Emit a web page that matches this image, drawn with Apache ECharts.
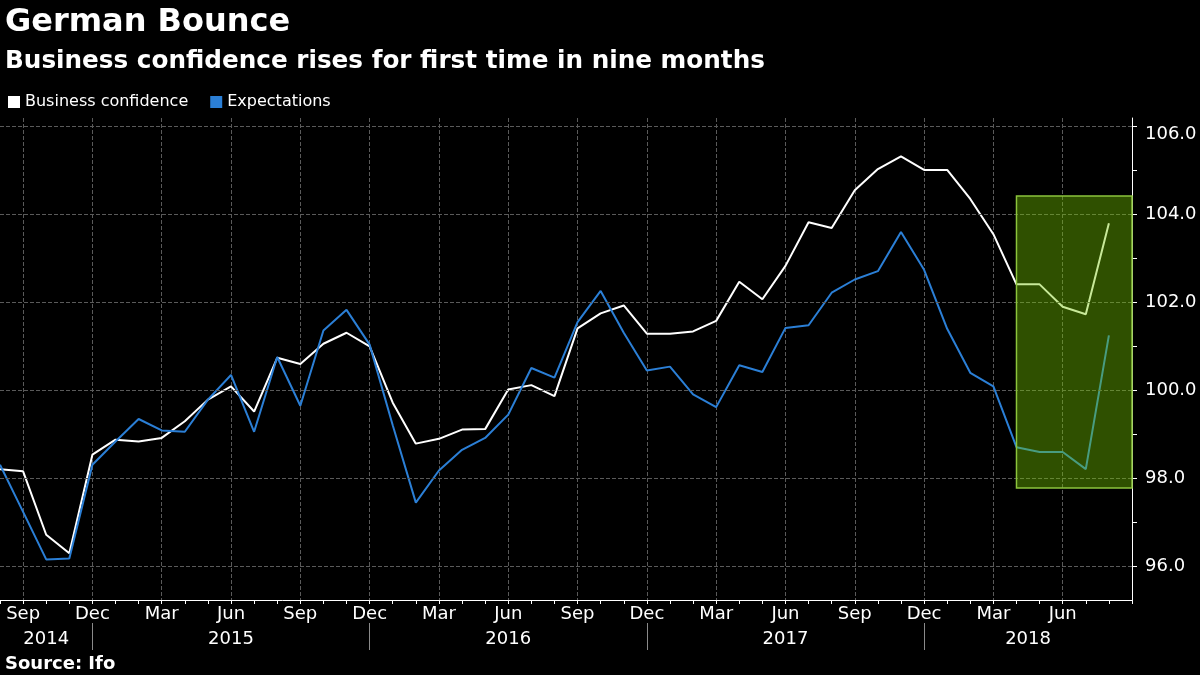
<!DOCTYPE html>
<html>
<head>
<meta charset="utf-8">
<style>
  html, body { margin: 0; padding: 0; background: #000; }
  #chart { width: 1200px; height: 675px; }
</style>
<script src="https://cdn.jsdelivr.net/npm/echarts@6/dist/echarts.min.js"></script>
</head>
<body>
<div id="chart"></div>
<script>
// ---- data ----
const months = [
  'Aug 2014','Sep 2014','Oct 2014','Nov 2014','Dec 2014',
  'Jan 2015','Feb 2015','Mar 2015','Apr 2015','May 2015','Jun 2015','Jul 2015','Aug 2015','Sep 2015','Oct 2015','Nov 2015','Dec 2015',
  'Jan 2016','Feb 2016','Mar 2016','Apr 2016','May 2016','Jun 2016','Jul 2016','Aug 2016','Sep 2016','Oct 2016','Nov 2016','Dec 2016',
  'Jan 2017','Feb 2017','Mar 2017','Apr 2017','May 2017','Jun 2017','Jul 2017','Aug 2017','Sep 2017','Oct 2017','Nov 2017','Dec 2017',
  'Jan 2018','Feb 2018','Mar 2018','Apr 2018','May 2018','Jun 2018','Jul 2018','Aug 2018','Sep 2018'
];
const businessConfidence = [
  98.20, 98.15, 96.71, 96.29, 98.53,
  98.87, 98.83, 98.91, 99.29, 99.78, 100.08, 99.51, 100.73, 100.59, 101.05, 101.30, 100.99,
  99.71, 98.78, 98.89, 99.10, 99.11, 100.01, 100.11, 99.86, 101.40, 101.74, 101.92, 101.28,
  101.28, 101.33, 101.57, 102.46, 102.06, 102.82, 103.81, 103.68, 104.54, 105.02, 105.31, 105.00,
  105.00, 104.34, 103.54, 102.40, 102.40, 101.89, 101.72, 103.79
];
const expectations = [
  98.30, 97.23, 96.15, 96.17, 98.30,
  98.83, 99.34, 99.08, 99.05, 99.78, 100.34, 99.05, 100.75, 99.64, 101.35, 101.82, 101.03,
  99.20, 97.44, 98.17, 98.64, 98.91, 99.44, 100.50, 100.28, 101.54, 102.25, 101.30, 100.44,
  100.53, 99.90, 99.61, 100.56, 100.41, 101.41, 101.47, 102.21, 102.51, 102.70, 103.59, 102.73,
  101.39, 100.39, 100.08, 98.70, 98.59, 98.59, 98.20, 101.24
];
const yTickValues = [96, 97, 98, 99, 100, 101, 102, 103, 104, 105, 106];
const yLabelValues = [96, 98, 100, 102, 104, 106];
const monthLabels = ['Sep', 'Dec', 'Mar', 'Jun'];
const years = ['2014', '2015', '2016', '2017', '2018'];
const highlightMonths = ['Apr 2018', 'Sep 2018'];
const highlightValues = [97.77, 104.41];

// ---- derived: year separators (Dec) and year label centres ----
const lastIdx = months.length - 1;
const decIdx = months.map((m, i) => m.startsWith('Dec') ? i : -1).filter(i => i >= 0);
const yearCenters = years.map((y, k) => {
  const start = k === 0 ? 0 : decIdx[k - 1];
  const end = k < decIdx.length ? decIdx[k] : lastIdx;
  return (start + end) / 2;
});
const yMax = 106.18, yMin = 95.227;
const topLabel = yLabelValues[yLabelValues.length - 1];

const FONT = "'DejaVu Sans', 'Liberation Sans', sans-serif";
const GRID_LINE = { color: '#5a5a5a', type: 'dashed', width: 1 };
const chart = echarts.init(document.getElementById('chart'));

chart.setOption({
  backgroundColor: '#000',
  animation: false,
  title: [
    { text: 'German Bounce', left: 0, top: 2,
      textStyle: { color: '#fff', fontSize: 32, fontWeight: 'bold', fontFamily: FONT } },
    { text: 'Business confidence rises for first time in nine months', left: 0, top: 44,
      textStyle: { color: '#fff', fontSize: 24.7, fontWeight: 'bold', fontFamily: FONT } },
    { text: 'Source: Ifo', left: 0, top: 650,
      textStyle: { color: '#fff', fontSize: 18, fontWeight: 'bold', fontFamily: FONT } }
  ],
  legend: {
    left: 3, top: 89, icon: 'rect', itemWidth: 12, itemHeight: 12, itemGap: 22,
    textStyle: { color: '#fff', fontSize: 16, fontFamily: FONT },
    data: ['Business confidence', 'Expectations']
  },
  grid: { left: 0, right: 68, top: 118, bottom: 75, containLabel: false },
  xAxis: [
    {
      type: 'category', data: months, boundaryGap: false,
      axisLine: { show: true, onZero: false, lineStyle: { color: '#fff', width: 1 } },
      axisTick: { show: true, interval: 0, length: 4, lineStyle: { color: '#fff' } },
      axisLabel: {
        interval: (i, v) => i !== lastIdx && monthLabels.includes(v.slice(0, 3)),
        formatter: v => v.slice(0, 3),
        color: '#fff', fontSize: 18, fontFamily: FONT, margin: 5
      },
      splitLine: {
        show: true,
        interval: (i, v) => monthLabels.includes(v.slice(0, 3)),
        lineStyle: GRID_LINE
      }
    },
    {
      type: 'value', min: 0, max: lastIdx, position: 'bottom', offset: 23,
      axisLine: { show: false, onZero: false },
      axisTick: { show: true, customValues: decIdx, length: 27, lineStyle: { color: '#8a8a8a' } },
      axisLabel: {
        customValues: yearCenters,
        formatter: v => {
          const k = yearCenters.findIndex(c => Math.abs(c - v) < 1e-6);
          return k >= 0 ? years[k] : '';
        },
        color: '#fff', fontSize: 18, fontFamily: FONT, margin: 7
      },
      splitLine: { show: false }
    }
  ],
  yAxis: {
    type: 'value', position: 'right', min: yMin, max: yMax,
    axisLine: { show: true, onZero: false, lineStyle: { color: '#fff', width: 1 } },
    axisTick: { show: true, customValues: yTickValues, length: 5, lineStyle: { color: '#fff' } },
    axisLabel: {
      customValues: yLabelValues,
      formatter: v => v === topLabel ? '{t|' + v.toFixed(1) + '}' : v.toFixed(1),
      color: '#fff', fontSize: 18, fontFamily: FONT, margin: 13,
      rich: { t: { color: '#fff', fontSize: 18, fontFamily: FONT, padding: [17, 0, 0, 0] } }
    },
    splitLine: { show: false }
  },
  series: [
    {
      type: 'line', data: [], z: 1, silent: true,
      markLine: {
        silent: true, symbol: ['none', 'none'], label: { show: false },
        lineStyle: GRID_LINE, emphasis: { disabled: true },
        data: yLabelValues.map(v => ({ yAxis: v }))
      }
    },
    {
      name: 'Business confidence', type: 'line', data: businessConfidence,
      symbol: 'none', lineStyle: { color: '#ffffff', width: 2 }, itemStyle: { color: '#ffffff' }, z: 3
    },
    {
      name: 'Expectations', type: 'line', data: expectations,
      symbol: 'none', lineStyle: { color: '#2b7fd6', width: 2 }, itemStyle: { color: '#2b7fd6' }, z: 3
    },
    {
      type: 'line', data: [], z: 10, silent: true,
      markArea: {
        silent: true, z: 10,
        itemStyle: { color: 'rgba(117,200,0,0.4)', borderColor: '#8cc43c', borderWidth: 1.5 },
        data: [[
          { xAxis: highlightMonths[0], yAxis: highlightValues[1] },
          { xAxis: highlightMonths[1], yAxis: highlightValues[0] }
        ]]
      }
    }
  ]
});
</script>
</body>
</html>
